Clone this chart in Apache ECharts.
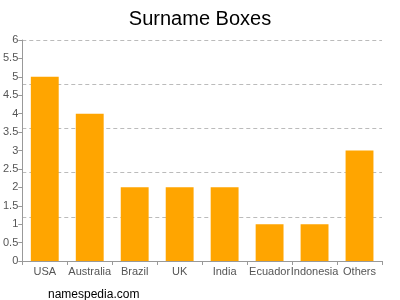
<!DOCTYPE html>
<html><head><meta charset="utf-8">
<script src="https://cdn.jsdelivr.net/npm/echarts@6/dist/echarts.min.js"></script>
<style>html,body{margin:0;padding:0;background:#fff}#c{width:400px;height:300px}</style>
</head><body><div id="c"></div>
<script>
var categories = ["USA","Australia","Brazil","UK","India","Ecuador","Indonesia","Others"];
var values = [5,4,2,2,2,1,1,3];
var chart = echarts.init(document.getElementById('c'), null, {renderer:'canvas'});
chart.setOption({
  animation:false,
  title:[{text:'Surname Boxes',left:'center',top:4,textStyle:{fontFamily:'Liberation Sans, Arial, sans-serif',fontSize:20,fontWeight:'normal',color:'#000'}},
         {text:'namespedia.com',left:43,top:284,textStyle:{fontFamily:'Liberation Sans, Arial, sans-serif',fontSize:12,fontWeight:'normal',color:'#000'}}],
  grid:{left:22,right:18,top:40,bottom:39,containLabel:false},
  xAxis:{type:'category',data:categories,
    axisLine:{lineStyle:{color:'#999'}},
    axisTick:{show:true,alignWithLabel:false,length:4,lineStyle:{color:'#999'}},
    axisLabel:{color:'#555',fontSize:11,fontFamily:'Liberation Sans, Arial, sans-serif',margin:5,interval:0}},
  yAxis:[{type:'value',min:0,max:6,interval:0.5,
    axisLine:{show:true,lineStyle:{color:'#999'}},
    axisTick:{show:true,length:4,lineStyle:{color:'#999'}},
    axisLabel:{color:'#555',fontSize:11,fontFamily:'Liberation Sans, Arial, sans-serif',margin:4},
    splitLine:{show:false}},
   {type:'value',min:0,max:6,interval:1.2,position:'left',
    axisLine:{show:false},axisTick:{show:false},axisLabel:{show:false},
    splitLine:{show:true,lineStyle:{color:'#bbb',type:[4,3],width:1}}}],
  series:[{type:'bar',data:values,barWidth:'62%',itemStyle:{color:'#FFA500'},yAxisIndex:0}]
});
</script></body></html>
